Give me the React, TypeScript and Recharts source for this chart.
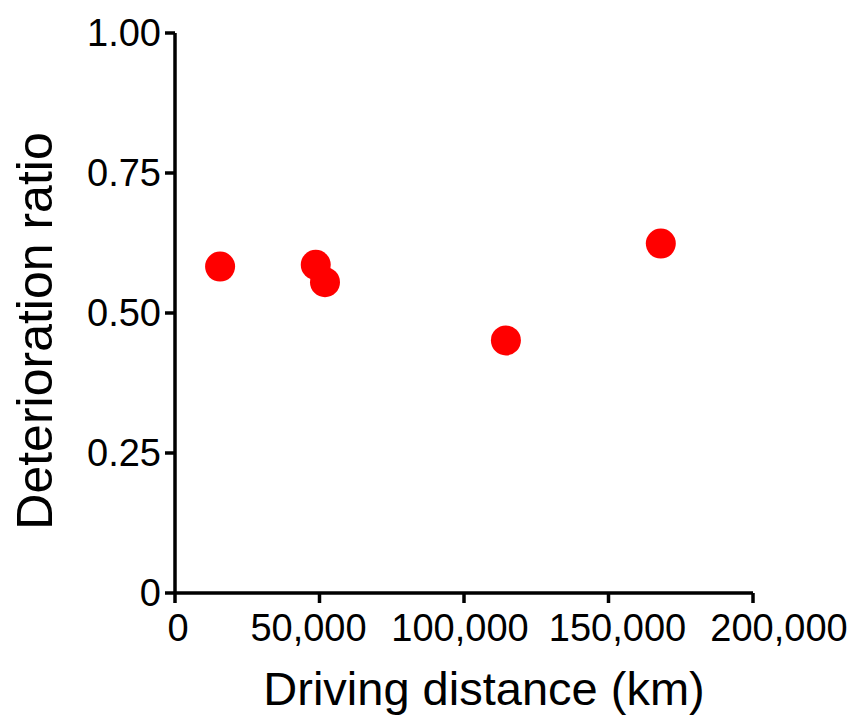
import { ScatterChart, Scatter, XAxis, YAxis, Label } from 'recharts';

const distanceKm = [15600, 48700, 51900, 114500, 168100];
const deteriorationRatio = [0.583, 0.586, 0.555, 0.451, 0.624];
const xTicks = [0, 50000, 100000, 150000, 200000];
const yTicks = [0, 0.25, 0.5, 0.75, 1];

const data = distanceKm.map((d, i) => ({ distance: d, ratio: deteriorationRatio[i] }));

const font = 'Liberation Sans, Arial, Helvetica, sans-serif';
const axisStyle = { stroke: '#000', strokeWidth: 3.5 };
// the original spreads the x labels a little wider than the ticks
const xLabelNudge = [3, -11, -4, 9, 26];

const Dot = (props: any) => <circle cx={props.cx} cy={props.cy} r={15} fill="#ff0000" />;

const XTick = (props: any) => {
  const { x, y, payload, index } = props;
  return (
    <text x={x + (xLabelNudge[index] ?? 0)} y={y} dy="0.71em" textAnchor="middle" fill="#000" fontSize={38}>
      {Number(payload.value).toLocaleString('en-US')}
    </text>
  );
};

const App = () => {
  return (
    <div style={{ position: 'absolute', left: 0, top: 0, width: 859, height: 716, background: '#fff' }}>
      <ScatterChart width={859} height={716} margin={{ top: 33, right: 106, bottom: 0, left: 35 }} style={{ fontFamily: font }}>
        <XAxis
          type="number"
          dataKey="distance"
          domain={[0, 200000]}
          ticks={xTicks}
          interval={0}
          height={123}
          tickSize={10}
          tickMargin={11}
          tick={<XTick />}
          tickLine={axisStyle}
          axisLine={axisStyle}
        >
          <Label value="Driving distance (km)" position="insideBottom" offset={11} dx={20} fill="#000" fontSize={47} />
        </XAxis>
        <XAxis xAxisId="top" type="number" orientation="top" domain={[0, 200000]} height={0} tick={false} tickLine={false} axisLine={axisStyle} />
        <YAxis
          type="number"
          dataKey="ratio"
          domain={[0, 1]}
          ticks={yTicks}
          interval={0}
          width={140}
          tickSize={10}
          tickMargin={4}
          tick={{ fill: '#000', fontSize: 38 }}
          tickLine={axisStyle}
          axisLine={axisStyle}
          tickFormatter={(v: number) => (v === 0 ? '0' : v.toFixed(2))}
        >
          <Label value="Deterioration ratio" angle={-90} position="insideLeft" offset={-1} dy={18} fill="#000" fontSize={50} style={{ textAnchor: 'middle' }} />
        </YAxis>
        <YAxis yAxisId="right" type="number" orientation="right" domain={[0, 1]} width={0} tick={false} tickLine={false} axisLine={axisStyle} />
        <Scatter data={data} shape={Dot} isAnimationActive={false} />
      </ScatterChart>
    </div>
  );
};

export default App;
